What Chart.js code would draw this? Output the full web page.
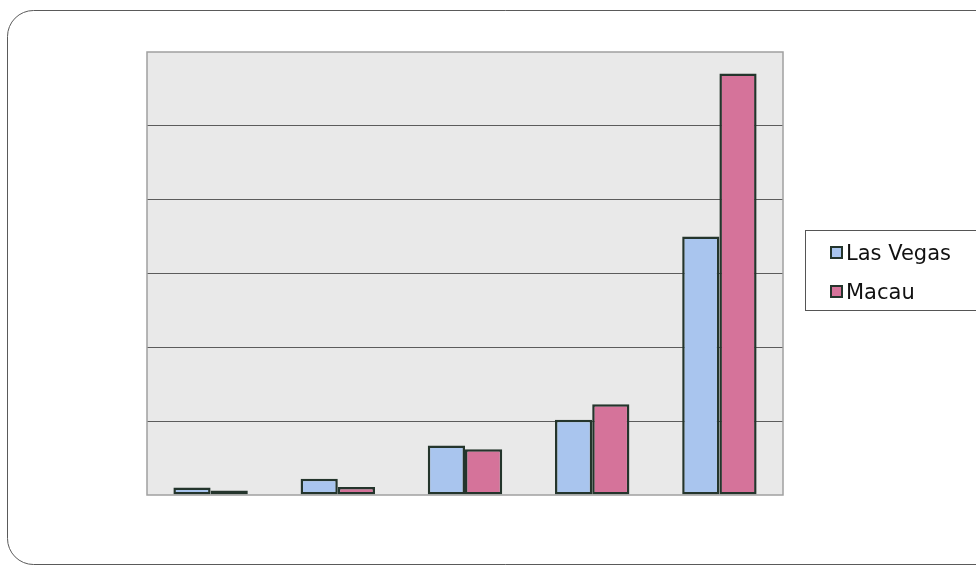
<!DOCTYPE html>
<html lang="en">
  <head>
    <meta charset="UTF-8" />
    <title>Las Vegas vs Macau</title>
    <script src="https://cdn.jsdelivr.net/npm/chart.js"></script>
    <style>
      html,
      body {
        margin: 0;
        padding: 0;
        background: #ffffff;
      }
      #wrap {
        width: 976px;
        height: 569px;
      }
    </style>
  </head>
  <body>
    <div id="wrap"><canvas id="myChart"></canvas></div>

    <script>
      // values (no axis labels in the original)
      const categories = ["1", "2", "3", "4", "5"];
      const lasVegas = [0.1, 0.22, 0.67, 1.02, 3.5];
      const macau = [0.06, 0.11, 0.62, 1.23, 5.71];
      const seriesNames = ["Las Vegas", "Macau"];

      const fills = ["#a9c5ee", "#d5739a"];
      const edge = "#24352c";

      // frame, plot background and legend box
      const framePlugin = {
        id: "frame",
        beforeDraw(chart) {
          const { ctx, chartArea: a } = chart;
          ctx.save();
          ctx.strokeStyle = "#5a5a5a";
          ctx.lineWidth = 1;
          ctx.beginPath();
          ctx.roundRect(7.5, 10.5, 1000, 554, 26);
          ctx.stroke();
          ctx.fillStyle = "#e9e9e9";
          ctx.fillRect(a.left, a.top, a.right - a.left, a.bottom - a.top);
          ctx.restore();
        },
        afterDraw(chart) {
          const { ctx, chartArea: a } = chart;
          ctx.save();
          ctx.strokeStyle = "#a0a0a0";
          ctx.lineWidth = 1.5;
          ctx.strokeRect(a.left, a.top, a.right - a.left, a.bottom - a.top);

          // legend
          ctx.strokeStyle = "#555";
          ctx.lineWidth = 1;
          ctx.fillStyle = "#fff";
          ctx.fillRect(805.5, 230.5, 200, 80);
          ctx.strokeRect(805.5, 230.5, 200, 80);
          ctx.font = '21px "DejaVu Sans", sans-serif';
          ctx.textBaseline = "alphabetic";
          chart.data.datasets.forEach((ds, i) => {
            const base = 260 + i * 39;
            ctx.fillStyle = ds.backgroundColor;
            ctx.fillRect(831, base - 13, 11, 11);
            ctx.strokeStyle = edge;
            ctx.lineWidth = 2;
            ctx.strokeRect(831, base - 13, 11, 11);
            ctx.fillStyle = "#111";
            ctx.fillText(ds.label, 846, base);
          });
          ctx.restore();
        },
      };

      const ctx = document.getElementById("myChart").getContext("2d");
      new Chart(ctx, {
        type: "bar",
        data: {
          labels: categories,
          datasets: [
            {
              label: seriesNames[0],
              data: lasVegas,
              backgroundColor: fills[0],
              borderColor: edge,
              borderWidth: 2.5,
              borderSkipped: false,
            },
            {
              label: seriesNames[1],
              data: macau,
              backgroundColor: fills[1],
              borderColor: edge,
              borderWidth: 2.5,
              borderSkipped: false,
            },
          ],
        },
        options: {
          responsive: true,
          maintainAspectRatio: false,
          animation: false,
          layout: {
            padding: { left: 147, top: 52, right: 193, bottom: 66 },
          },
          datasets: {
            bar: {
              categoryPercentage: 0.585,
              barPercentage: 1,
            },
          },
          scales: {
            x: {
              ticks: { display: false },
              grid: { display: false },
              border: { display: false },
            },
            y: {
              min: 0,
              max: 6,
              ticks: { display: false, stepSize: 1 },
              grid: {
                drawTicks: false,
                color: (c) =>
                  c.tick && (c.tick.value === 0 || c.tick.value === 6)
                    ? "rgba(0,0,0,0)"
                    : "#5c5c5c",
                lineWidth: 1,
              },
              border: { display: false },
            },
          },
          plugins: {
            legend: { display: false },
            tooltip: { enabled: false },
          },
        },
        plugins: [framePlugin],
      });
    </script>
  </body>
</html>
